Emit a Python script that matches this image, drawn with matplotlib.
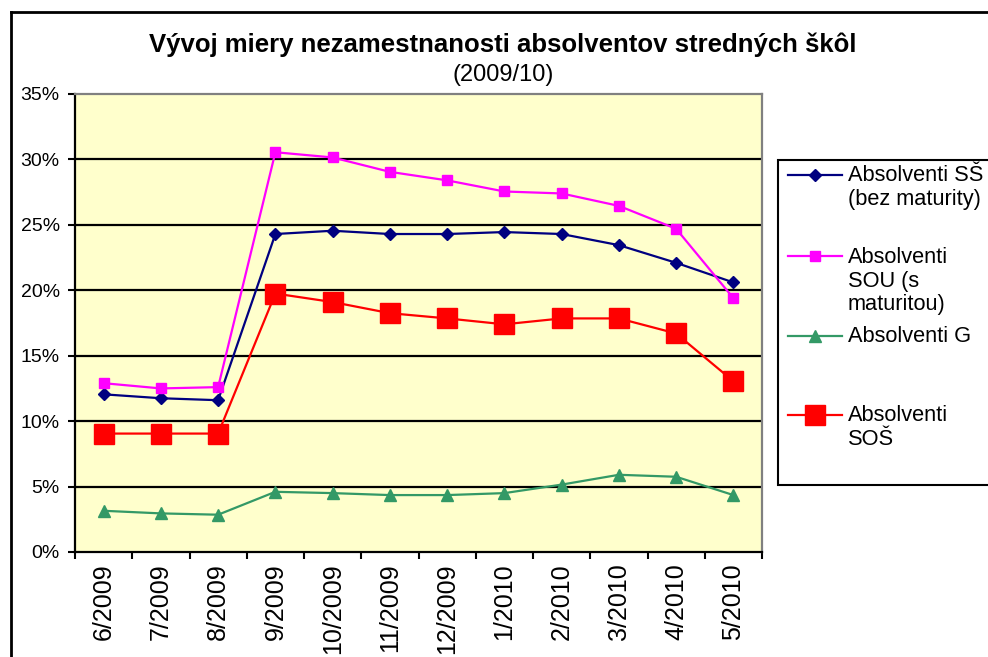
import numpy as np
import matplotlib.pyplot as plt
from matplotlib.lines import Line2D
from matplotlib.patches import Rectangle
from matplotlib.ticker import PercentFormatter, FixedLocator

plt.rcParams['font.family'] = ['Liberation Sans', 'DejaVu Sans']

months = ['6/2009', '7/2009', '8/2009', '9/2009', '10/2009', '11/2009',
          '12/2009', '1/2010', '2/2010', '3/2010', '4/2010', '5/2010']

ss_bez_mat = [12.05, 11.75, 11.6, 24.3, 24.55, 24.3, 24.3, 24.45, 24.3, 23.45, 22.1, 20.6]
sou_s_mat = [12.9, 12.5, 12.6, 30.55, 30.15, 29.05, 28.4, 27.55, 27.4, 26.45, 24.7, 19.4]
gymn = [3.15, 2.95, 2.85, 4.6, 4.5, 4.35, 4.35, 4.5, 5.15, 5.9, 5.75, 4.35]
sos = [9.05, 9.05, 9.05, 19.75, 19.1, 18.25, 17.85, 17.4, 17.85, 17.85, 16.7, 13.05]

labels = ['Absolventi SŠ\n(bez maturity)', 'Absolventi\nSOU (s\nmaturitou)',
          'Absolventi G', 'Absolventi\nSOŠ']
series = [ss_bez_mat, sou_s_mat, gymn, sos]
colors = ['#000080', '#FF00FF', '#339966', '#FF0000']
markers = ['D', 's', '^', 's']
msizes = [6.5, 7.5, 8.5, 14]

W, H = 988, 657
fig = plt.figure(figsize=(W / 100, H / 100), dpi=100)
ax = fig.add_axes([75 / W, 1 - 552 / H, (762 - 75) / W, (552 - 94) / H])
ax.set_facecolor('#FFFFCC')

x = np.arange(len(months))
for vals, c, m, ms in zip(series, colors, markers, msizes):
    ax.plot(x, np.array(vals) / 100, color=c, lw=1.6, marker=m, markersize=ms,
            markeredgecolor=c, markerfacecolor=c, zorder=3)

ax.set_xlim(-0.5, len(months) - 0.5)
ax.set_ylim(0, 0.35)
yt = np.arange(0, 0.351, 0.05)
ax.set_yticks(yt)
ax.yaxis.set_major_formatter(PercentFormatter(1.0, decimals=0))
ax.hlines(yt[1:-1], -0.5, len(months) - 0.5, colors='black', lw=1.6, zorder=1)

ax.set_xticks(x)
ax.set_xticklabels(months, rotation=90, fontsize=18)
ax.xaxis.set_minor_locator(FixedLocator(np.arange(-0.5, len(months), 1.0)))
ax.tick_params(axis='x', which='major', length=0, pad=8)
ax.tick_params(axis='x', which='minor', length=5, width=1.5, color='black')
ax.tick_params(axis='y', length=5, width=1.5, pad=6, labelsize=14)

for s in ['left', 'bottom']:
    ax.spines[s].set_color('black')
    ax.spines[s].set_linewidth(1.6)
for s in ['top', 'right']:
    ax.spines[s].set_color('#808080')
    ax.spines[s].set_linewidth(1.6)

# outer chart frame
fig.add_artist(Line2D([11 / W, 11 / W], [0, 1 - 12 / H], transform=fig.transFigure,
                      color='black', lw=2))
fig.add_artist(Line2D([11 / W, 1], [1 - 12 / H, 1 - 12 / H], transform=fig.transFigure,
                      color='black', lw=2))

fig.text(503 / W, 1 - 45 / H, 'Vývoj miery nezamestnanosti absolventov stredných škôl',
         ha='center', va='center', fontsize=18.5, fontweight='bold')
fig.text(503 / W, 1 - 75 / H, '(2009/10)', ha='center', va='center', fontsize=17)

# legend
fig.add_artist(Rectangle((778 / W, 1 - 485 / H), (995 - 778) / W, (485 - 160) / H,
                         transform=fig.transFigure, facecolor='white',
                         edgecolor='black', lw=1.5))
entry_y = [175, 256, 336, 415]
for lab, c, m, ms, ey in zip(labels, colors, markers, msizes, entry_y):
    fig.add_artist(Line2D([788 / W, 815 / W, 842 / W], [1 - ey / H] * 3,
                          transform=fig.transFigure, color=c, lw=1.6, marker=m,
                          markersize=ms, markevery=[1], markeredgecolor=c,
                          markerfacecolor=c))
    n = lab.count('\n')
    fig.text(848 / W, 1 - (ey + n * 12.5) / H, lab, ha='left', va='center',
             fontsize=15.7, linespacing=1.17)

fig.savefig('out.png', dpi=100)
